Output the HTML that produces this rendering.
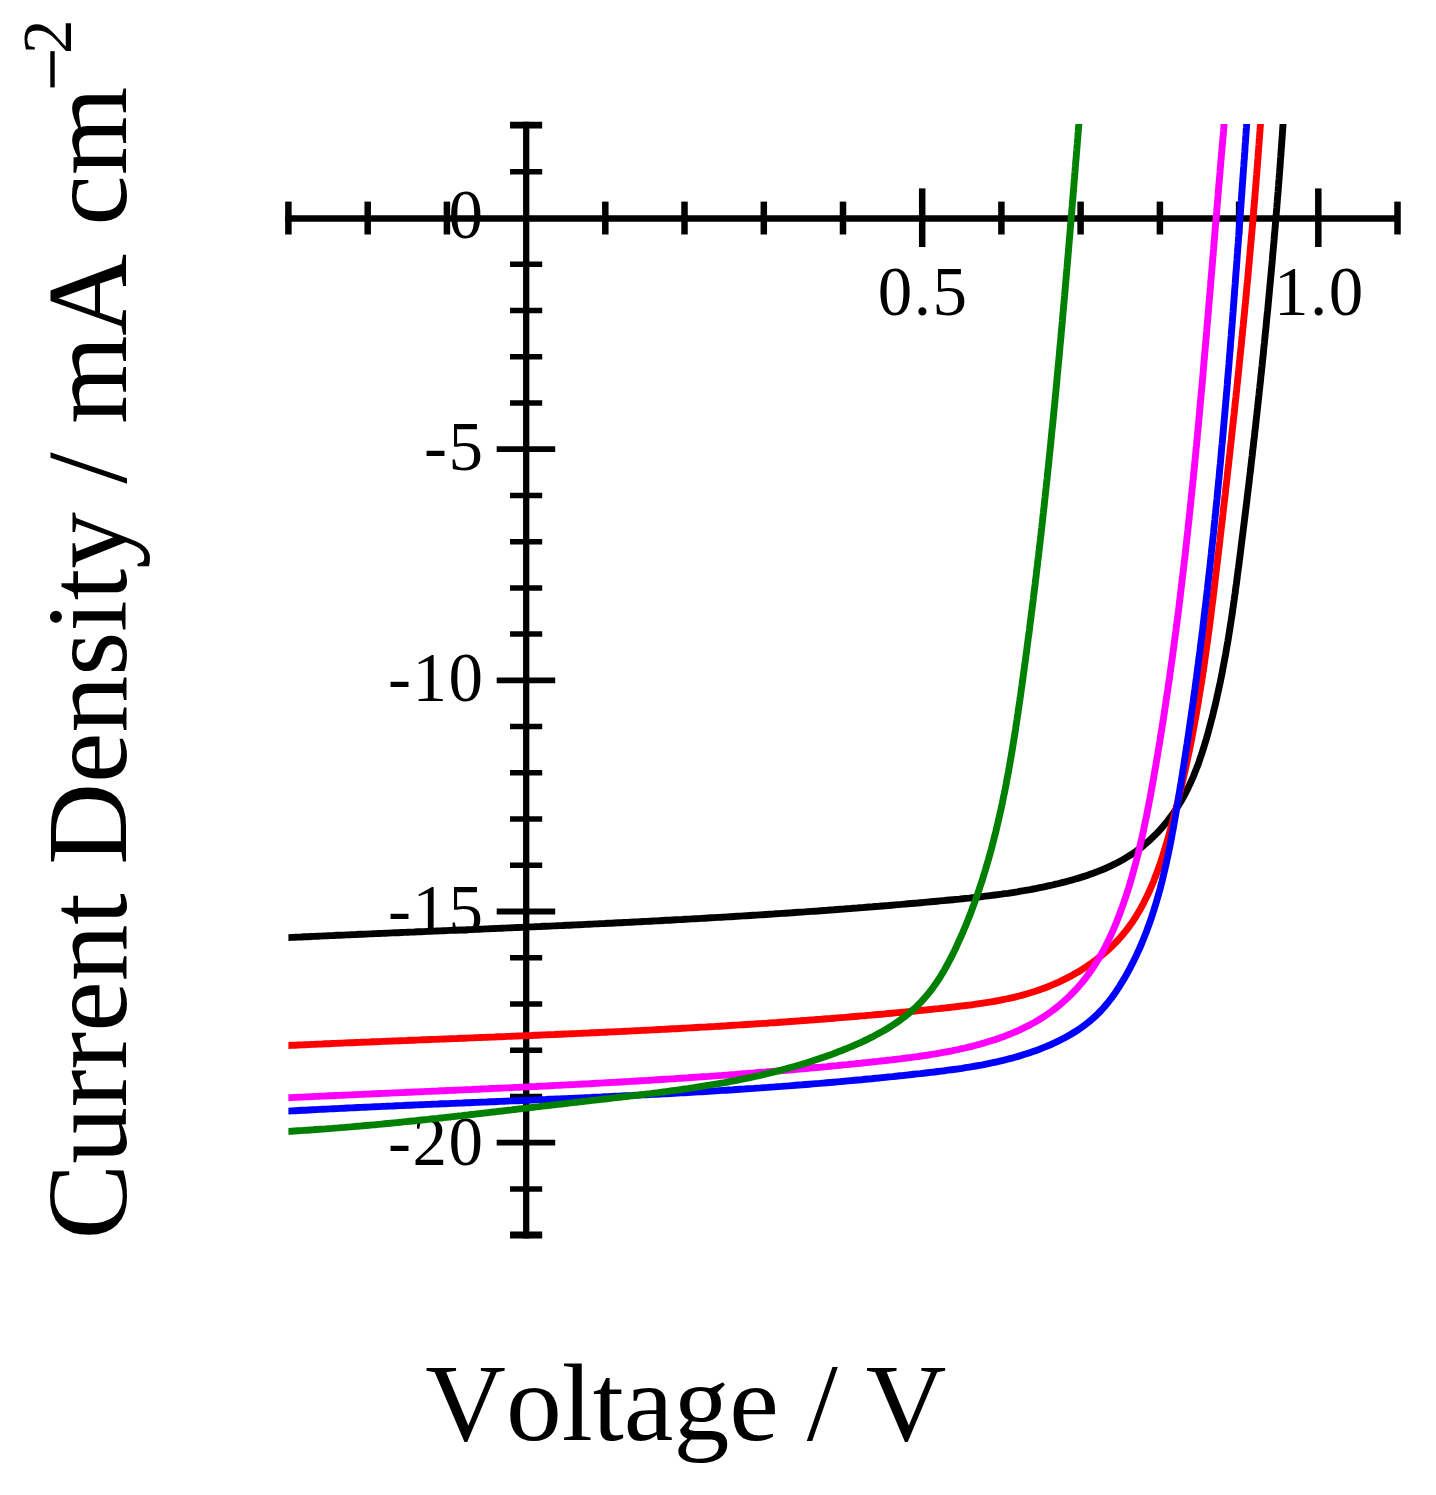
<!DOCTYPE html>
<html><head><meta charset="utf-8"><style>
html,body{margin:0;padding:0;background:#fff;}
svg{display:block;}
text{font-kerning:none;}
.tl{font-family:"Liberation Serif",serif;font-size:69px;fill:#000;letter-spacing:1.5px;}
.tt{font-family:"Liberation Serif",serif;font-size:113.4px;fill:#000;}
.sp{font-family:"Liberation Serif",serif;font-size:67px;fill:#000;}
</style></head><body>
<svg width="1436" height="1495" viewBox="0 0 1436 1495">
<rect width="1436" height="1495" fill="#fff"/>
<defs><clipPath id="pc"><rect x="288.4" y="124" width="1120" height="1120"/></clipPath></defs>
<g stroke="#000" fill="none">
<line x1="285" y1="218.5" x2="1400" y2="218.5" stroke-width="6.5"/>
<line x1="526.2" y1="121.8" x2="526.2" y2="1238.4" stroke-width="6.3"/>
<line x1="288.4" y1="201.6" x2="288.4" y2="234.5" stroke-width="6.5"/>
<line x1="367.7" y1="201.6" x2="367.7" y2="234.5" stroke-width="6.5"/>
<line x1="446.9" y1="201.6" x2="446.9" y2="234.5" stroke-width="6.5"/>
<line x1="605.3" y1="201.6" x2="605.3" y2="234.5" stroke-width="6.5"/>
<line x1="684.5" y1="201.6" x2="684.5" y2="234.5" stroke-width="6.5"/>
<line x1="763.8" y1="201.6" x2="763.8" y2="234.5" stroke-width="6.5"/>
<line x1="843.0" y1="201.6" x2="843.0" y2="234.5" stroke-width="6.5"/>
<line x1="922.2" y1="188.4" x2="922.2" y2="247" stroke-width="6.5"/>
<line x1="1001.4" y1="201.6" x2="1001.4" y2="234.5" stroke-width="6.5"/>
<line x1="1080.6" y1="201.6" x2="1080.6" y2="234.5" stroke-width="6.5"/>
<line x1="1159.9" y1="201.6" x2="1159.9" y2="234.5" stroke-width="6.5"/>
<line x1="1239.1" y1="201.6" x2="1239.1" y2="234.5" stroke-width="6.5"/>
<line x1="1318.3" y1="188.4" x2="1318.3" y2="247" stroke-width="6.5"/>
<line x1="1397.5" y1="201.6" x2="1397.5" y2="234.5" stroke-width="6.5"/>
<line x1="510" y1="125.2" x2="542.2" y2="125.2" stroke-width="6.8"/>
<line x1="510" y1="171.8" x2="542.2" y2="171.8" stroke-width="5.5"/>
<line x1="510" y1="264.2" x2="542.2" y2="264.2" stroke-width="5.5"/>
<line x1="510" y1="310.5" x2="542.2" y2="310.5" stroke-width="5.5"/>
<line x1="510" y1="356.7" x2="542.2" y2="356.7" stroke-width="5.5"/>
<line x1="510" y1="402.9" x2="542.2" y2="402.9" stroke-width="5.5"/>
<line x1="496.7" y1="449.2" x2="555.2" y2="449.2" stroke-width="5.8"/>
<line x1="510" y1="495.4" x2="542.2" y2="495.4" stroke-width="5.5"/>
<line x1="510" y1="541.7" x2="542.2" y2="541.7" stroke-width="5.5"/>
<line x1="510" y1="587.9" x2="542.2" y2="587.9" stroke-width="5.5"/>
<line x1="510" y1="634.1" x2="542.2" y2="634.1" stroke-width="5.5"/>
<line x1="496.7" y1="680.4" x2="555.2" y2="680.4" stroke-width="5.8"/>
<line x1="510" y1="726.6" x2="542.2" y2="726.6" stroke-width="5.5"/>
<line x1="510" y1="772.8" x2="542.2" y2="772.8" stroke-width="5.5"/>
<line x1="510" y1="819.1" x2="542.2" y2="819.1" stroke-width="5.5"/>
<line x1="510" y1="865.3" x2="542.2" y2="865.3" stroke-width="5.5"/>
<line x1="496.7" y1="911.5" x2="555.2" y2="911.5" stroke-width="5.8"/>
<line x1="510" y1="957.8" x2="542.2" y2="957.8" stroke-width="5.5"/>
<line x1="510" y1="1004.0" x2="542.2" y2="1004.0" stroke-width="5.5"/>
<line x1="510" y1="1050.2" x2="542.2" y2="1050.2" stroke-width="5.5"/>
<line x1="510" y1="1096.5" x2="542.2" y2="1096.5" stroke-width="5.5"/>
<line x1="496.7" y1="1142.7" x2="555.2" y2="1142.7" stroke-width="5.8"/>
<line x1="510" y1="1189.0" x2="542.2" y2="1189.0" stroke-width="5.5"/>
<line x1="510" y1="1235.0" x2="542.2" y2="1235.0" stroke-width="6.8"/>
</g>
<text x="484.5" y="237.5" text-anchor="end" class="tl">0</text>
<text x="484.5" y="470.2" text-anchor="end" class="tl">-5</text>
<text x="484.5" y="700.6" text-anchor="end" class="tl">-10</text>
<text x="484.5" y="933.0" text-anchor="end" class="tl">-15</text>
<text x="484.5" y="1164.7" text-anchor="end" class="tl">-20</text>
<text x="923.2" y="314.5" text-anchor="middle" class="tl">0.5</text>
<text x="1319.3" y="314.5" text-anchor="middle" class="tl">1.0</text>
<text x="425.3" y="1440" class="tt" style="font-size:111px" textLength="521" lengthAdjust="spacingAndGlyphs">Voltage / V</text>
<g transform="translate(126,1239.5) rotate(-90)">
<text x="0" y="0" class="tt">Current Density / mA cm</text>
<text x="1185.5" y="-55" class="sp" style="font-size:69px">2</text>
</g>
<rect x="50.3" y="51.2" width="4.4" height="36.2" fill="#000"/>
<g clip-path="url(#pc)" fill="none" stroke-width="6.9" stroke-linejoin="round">
<path d="M276.3,938.1 L288.3,937.6 L291.5,937.4 L294.7,937.3 L298.0,937.1 L301.2,937.0 L304.5,936.8 L307.7,936.7 L310.9,936.5 L314.2,936.4 L317.4,936.2 L320.6,936.1 L323.9,935.9 L327.1,935.8 L330.3,935.6 L333.6,935.5 L336.8,935.3 L340.0,935.2 L343.3,935.1 L346.5,934.9 L349.8,934.8 L353.0,934.6 L356.2,934.5 L359.5,934.3 L362.7,934.2 L365.9,934.1 L369.2,933.9 L372.4,933.8 L375.6,933.6 L378.9,933.5 L382.1,933.4 L385.3,933.2 L388.6,933.1 L391.8,932.9 L395.0,932.8 L398.2,932.7 L401.5,932.5 L404.7,932.4 L407.9,932.2 L411.2,932.1 L414.4,932.0 L417.6,931.8 L420.9,931.7 L424.1,931.6 L427.3,931.4 L430.6,931.3 L433.8,931.1 L437.0,931.0 L440.2,930.9 L443.5,930.7 L446.7,930.6 L449.9,930.4 L453.2,930.3 L456.4,930.2 L459.6,930.0 L462.9,929.9 L466.1,929.8 L469.3,929.6 L472.5,929.5 L475.8,929.3 L479.0,929.2 L482.2,929.1 L485.5,928.9 L488.7,928.8 L491.9,928.6 L495.1,928.5 L498.4,928.4 L501.6,928.2 L504.8,928.1 L508.0,927.9 L511.3,927.8 L514.5,927.6 L517.7,927.5 L521.0,927.4 L524.2,927.2 L527.4,927.1 L530.6,926.9 L533.9,926.8 L537.1,926.6 L540.3,926.5 L543.5,926.3 L546.8,926.2 L550.0,926.1 L553.2,925.9 L556.4,925.8 L559.7,925.6 L562.9,925.5 L566.1,925.3 L569.4,925.2 L572.6,925.0 L575.8,924.9 L579.0,924.7 L582.3,924.6 L585.5,924.4 L588.7,924.2 L591.9,924.1 L595.2,923.9 L598.4,923.8 L601.6,923.6 L604.8,923.5 L608.1,923.3 L611.3,923.2 L614.5,923.0 L617.7,922.8 L621.0,922.7 L624.2,922.5 L627.4,922.4 L630.6,922.2 L633.9,922.0 L637.1,921.9 L640.3,921.7 L643.5,921.5 L646.7,921.4 L650.0,921.2 L653.2,921.0 L656.4,920.9 L659.6,920.7 L662.9,920.5 L666.1,920.3 L669.3,920.2 L672.5,920.0 L675.8,919.8 L679.0,919.6 L682.2,919.5 L685.4,919.3 L688.7,919.1 L691.9,918.9 L695.1,918.7 L698.3,918.6 L701.6,918.4 L704.8,918.2 L708.0,918.0 L711.2,917.8 L714.4,917.6 L717.7,917.4 L720.9,917.3 L724.1,917.1 L727.3,916.9 L730.6,916.7 L733.8,916.5 L737.0,916.3 L740.2,916.1 L743.5,915.9 L746.7,915.7 L749.9,915.5 L753.1,915.3 L756.4,915.1 L759.6,914.9 L762.8,914.7 L766.0,914.5 L769.2,914.3 L772.5,914.1 L775.7,913.8 L778.9,913.6 L782.1,913.4 L785.4,913.2 L788.6,913.0 L791.8,912.8 L795.0,912.5 L798.3,912.3 L801.5,912.1 L804.7,911.9 L807.9,911.6 L811.2,911.4 L814.4,911.2 L817.6,911.0 L820.8,910.7 L824.1,910.5 L827.3,910.3 L830.5,910.0 L833.7,909.8 L836.9,909.5 L840.2,909.3 L843.4,909.1 L846.6,908.8 L849.8,908.6 L853.1,908.3 L856.3,908.1 L859.5,907.8 L862.7,907.6 L866.0,907.3 L869.2,907.0 L872.4,906.8 L875.6,906.5 L878.9,906.3 L882.1,906.0 L885.3,905.7 L888.5,905.5 L891.8,905.2 L895.0,904.9 L898.2,904.6 L901.4,904.4 L904.7,904.1 L907.9,903.8 L911.1,903.5 L914.3,903.2 L917.6,903.0 L920.8,902.7 L924.0,902.4 L927.2,902.1 L930.5,901.8 L933.7,901.5 L936.9,901.2 L940.2,900.9 L943.4,900.6 L946.6,900.3 L949.8,900.0 L953.1,899.7 L956.3,899.4 L959.5,899.1 L962.7,898.7 L966.0,898.4 L969.2,898.1 L972.4,897.7 L975.6,897.4 L978.8,897.0 L982.1,896.6 L985.3,896.2 L988.5,895.8 L991.7,895.4 L994.9,895.0 L998.2,894.6 L1001.4,894.2 L1004.6,893.7 L1007.8,893.3 L1011.0,892.8 L1014.2,892.3 L1017.4,891.8 L1020.6,891.2 L1023.8,890.7 L1027.0,890.1 L1030.2,889.6 L1033.4,889.0 L1036.6,888.4 L1039.8,887.7 L1042.9,887.1 L1046.1,886.4 L1049.3,885.7 L1052.5,885.0 L1055.7,884.2 L1058.8,883.5 L1062.0,882.7 L1065.2,881.9 L1068.3,881.0 L1071.5,880.2 L1074.6,879.3 L1077.7,878.4 L1080.9,877.4 L1084.0,876.4 L1087.0,875.4 L1090.1,874.3 L1093.2,873.2 L1096.2,872.1 L1099.2,870.9 L1102.2,869.7 L1105.2,868.5 L1108.1,867.2 L1111.0,865.8 L1113.9,864.4 L1116.8,863.0 L1119.6,861.5 L1122.4,860.0 L1125.1,858.4 L1127.8,856.7 L1130.5,855.0 L1133.2,853.3 L1135.7,851.5 L1138.3,849.6 L1140.8,847.7 L1143.3,845.7 L1145.7,843.7 L1148.1,841.6 L1150.4,839.5 L1152.7,837.3 L1155.0,835.1 L1157.2,832.9 L1159.4,830.6 L1161.5,828.2 L1163.6,825.8 L1165.6,823.4 L1167.6,820.9 L1169.5,818.4 L1171.4,815.8 L1173.3,813.2 L1175.1,810.6 L1176.9,807.9 L1178.6,805.2 L1180.3,802.5 L1181.9,799.7 L1183.5,796.9 L1185.0,794.1 L1186.5,791.2 L1187.9,788.4 L1189.3,785.4 L1190.7,782.5 L1192.0,779.5 L1193.3,776.6 L1194.5,773.5 L1195.7,770.5 L1196.9,767.5 L1198.1,764.4 L1199.2,761.3 L1200.2,758.2 L1201.3,755.1 L1202.3,752.0 L1203.3,748.9 L1204.3,745.8 L1205.2,742.6 L1206.2,739.5 L1207.1,736.3 L1208.0,733.1 L1208.8,730.0 L1209.7,726.8 L1210.5,723.6 L1211.3,720.5 L1212.2,717.3 L1213.0,714.1 L1213.7,711.0 L1214.5,707.8 L1215.3,704.6 L1216.0,701.5 L1216.7,698.3 L1217.4,695.1 L1218.1,691.9 L1218.8,688.8 L1219.5,685.6 L1220.2,682.4 L1220.8,679.3 L1221.5,676.1 L1222.1,672.9 L1222.7,669.7 L1223.3,666.5 L1223.9,663.4 L1224.5,660.2 L1225.1,657.0 L1225.7,653.8 L1226.2,650.6 L1226.8,647.5 L1227.3,644.3 L1227.9,641.1 L1228.4,637.9 L1228.9,634.7 L1229.4,631.5 L1229.9,628.4 L1230.4,625.2 L1230.9,622.0 L1231.4,618.8 L1231.9,615.6 L1232.4,612.4 L1232.8,609.2 L1233.3,606.1 L1233.7,602.9 L1234.2,599.7 L1234.6,596.5 L1235.1,593.3 L1235.5,590.1 L1235.9,586.9 L1236.4,583.7 L1236.8,580.5 L1237.2,577.3 L1237.6,574.1 L1238.0,570.9 L1238.5,567.7 L1238.9,564.5 L1239.3,561.3 L1239.7,558.2 L1240.1,555.0 L1240.5,551.8 L1240.9,548.6 L1241.3,545.4 L1241.7,542.2 L1242.1,539.0 L1242.5,535.8 L1242.9,532.6 L1243.3,529.4 L1243.7,526.2 L1244.1,523.0 L1244.5,519.8 L1244.9,516.5 L1245.3,513.3 L1245.7,510.1 L1246.1,506.9 L1246.5,503.7 L1246.9,500.5 L1247.2,497.3 L1247.6,494.1 L1248.0,490.9 L1248.4,487.7 L1248.8,484.5 L1249.2,481.3 L1249.5,478.1 L1249.9,474.9 L1250.3,471.7 L1250.7,468.5 L1251.0,465.2 L1251.4,462.0 L1251.8,458.8 L1252.2,455.6 L1252.5,452.4 L1252.9,449.2 L1253.3,446.0 L1253.6,442.8 L1254.0,439.6 L1254.4,436.4 L1254.7,433.1 L1255.1,429.9 L1255.5,426.7 L1255.8,423.5 L1256.2,420.3 L1256.5,417.1 L1256.9,413.9 L1257.2,410.6 L1257.6,407.4 L1257.9,404.2 L1258.3,401.0 L1258.6,397.8 L1259.0,394.6 L1259.3,391.4 L1259.7,388.1 L1260.0,384.9 L1260.4,381.7 L1260.7,378.5 L1261.0,375.3 L1261.4,372.0 L1261.7,368.8 L1262.1,365.6 L1262.4,362.4 L1262.7,359.2 L1263.1,356.0 L1263.4,352.7 L1263.7,349.5 L1264.0,346.3 L1264.4,343.1 L1264.7,339.9 L1265.0,336.6 L1265.3,333.4 L1265.7,330.2 L1266.0,327.0 L1266.3,323.8 L1266.6,320.5 L1266.9,317.3 L1267.2,314.1 L1267.6,310.9 L1267.9,307.7 L1268.2,304.4 L1268.5,301.2 L1268.8,298.0 L1269.1,294.8 L1269.4,291.6 L1269.7,288.3 L1270.0,285.1 L1270.3,281.9 L1270.6,278.7 L1270.9,275.4 L1271.2,272.2 L1271.5,269.0 L1271.8,265.8 L1272.1,262.6 L1272.4,259.3 L1272.6,256.1 L1272.9,252.9 L1273.2,249.7 L1273.5,246.4 L1273.8,243.2 L1274.1,240.0 L1274.3,236.8 L1274.6,233.6 L1274.9,230.3 L1275.2,227.1 L1275.4,223.9 L1275.7,220.7 L1276.0,217.4 L1276.2,214.2 L1276.5,211.0 L1276.8,207.8 L1277.0,204.6 L1277.3,201.3 L1277.5,198.1 L1277.8,194.9 L1278.1,191.7 L1278.3,188.4 L1278.6,185.2 L1278.8,182.0 L1279.1,178.8 L1279.3,175.6 L1279.6,172.3 L1279.8,169.1 L1280.1,165.9 L1280.3,162.7 L1280.5,159.5 L1280.8,156.2 L1281.0,153.0 L1281.2,149.8 L1281.5,146.6 L1281.7,143.3 L1281.9,140.1 L1282.2,136.9 L1282.4,133.7 L1282.6,130.5 L1282.8,127.2 L1283.1,124.0 L1283.9,112.0" stroke="#000000"/>
<path d="M276.2,1046.0 L288.2,1045.5 L291.6,1045.3 L295.0,1045.2 L298.4,1045.0 L301.8,1044.9 L305.2,1044.7 L308.6,1044.6 L312.0,1044.4 L315.4,1044.3 L318.8,1044.1 L322.1,1044.0 L325.5,1043.8 L328.9,1043.7 L332.3,1043.5 L335.7,1043.4 L339.1,1043.2 L342.5,1043.1 L345.8,1042.9 L349.2,1042.8 L352.6,1042.7 L356.0,1042.5 L359.4,1042.4 L362.8,1042.2 L366.1,1042.1 L369.5,1042.0 L372.9,1041.8 L376.3,1041.7 L379.7,1041.6 L383.0,1041.4 L386.4,1041.3 L389.8,1041.1 L393.2,1041.0 L396.6,1040.9 L399.9,1040.7 L403.3,1040.6 L406.7,1040.5 L410.1,1040.3 L413.4,1040.2 L416.8,1040.1 L420.2,1039.9 L423.6,1039.8 L426.9,1039.7 L430.3,1039.5 L433.7,1039.4 L437.1,1039.3 L440.4,1039.1 L443.8,1039.0 L447.2,1038.9 L450.6,1038.7 L453.9,1038.6 L457.3,1038.5 L460.7,1038.3 L464.0,1038.2 L467.4,1038.1 L470.8,1037.9 L474.2,1037.8 L477.5,1037.6 L480.9,1037.5 L484.3,1037.4 L487.6,1037.2 L491.0,1037.1 L494.4,1037.0 L497.7,1036.8 L501.1,1036.7 L504.5,1036.6 L507.8,1036.4 L511.2,1036.3 L514.6,1036.1 L517.9,1036.0 L521.3,1035.9 L524.7,1035.7 L528.0,1035.6 L531.4,1035.5 L534.8,1035.3 L538.1,1035.2 L541.5,1035.0 L544.9,1034.9 L548.2,1034.7 L551.6,1034.6 L555.0,1034.5 L558.3,1034.3 L561.7,1034.2 L565.1,1034.0 L568.4,1033.9 L571.8,1033.7 L575.2,1033.6 L578.5,1033.4 L581.9,1033.3 L585.2,1033.1 L588.6,1033.0 L592.0,1032.8 L595.3,1032.7 L598.7,1032.5 L602.1,1032.4 L605.4,1032.2 L608.8,1032.0 L612.2,1031.9 L615.5,1031.7 L618.9,1031.6 L622.2,1031.4 L625.6,1031.2 L629.0,1031.1 L632.3,1030.9 L635.7,1030.7 L639.1,1030.6 L642.4,1030.4 L645.8,1030.2 L649.1,1030.1 L652.5,1029.9 L655.9,1029.7 L659.2,1029.5 L662.6,1029.4 L666.0,1029.2 L669.3,1029.0 L672.7,1028.8 L676.0,1028.7 L679.4,1028.5 L682.8,1028.3 L686.1,1028.1 L689.5,1027.9 L692.9,1027.7 L696.2,1027.5 L699.6,1027.3 L702.9,1027.1 L706.3,1027.0 L709.7,1026.8 L713.0,1026.6 L716.4,1026.4 L719.8,1026.2 L723.1,1026.0 L726.5,1025.8 L729.9,1025.5 L733.2,1025.3 L736.6,1025.1 L740.0,1024.9 L743.3,1024.7 L746.7,1024.5 L750.0,1024.3 L753.4,1024.1 L756.8,1023.8 L760.1,1023.6 L763.5,1023.4 L766.9,1023.2 L770.2,1022.9 L773.6,1022.7 L777.0,1022.5 L780.3,1022.2 L783.7,1022.0 L787.1,1021.8 L790.4,1021.5 L793.8,1021.3 L797.2,1021.0 L800.5,1020.8 L803.9,1020.5 L807.3,1020.3 L810.7,1020.0 L814.0,1019.8 L817.4,1019.5 L820.8,1019.3 L824.1,1019.0 L827.5,1018.7 L830.9,1018.5 L834.2,1018.2 L837.6,1017.9 L841.0,1017.6 L844.4,1017.4 L847.7,1017.1 L851.1,1016.8 L854.5,1016.5 L857.8,1016.2 L861.2,1015.9 L864.6,1015.7 L868.0,1015.4 L871.3,1015.1 L874.7,1014.8 L878.1,1014.5 L881.5,1014.2 L884.8,1013.9 L888.2,1013.5 L891.6,1013.2 L895.0,1012.9 L898.3,1012.6 L901.7,1012.3 L905.1,1012.0 L908.5,1011.6 L911.9,1011.3 L915.2,1011.0 L918.6,1010.6 L922.0,1010.3 L925.4,1010.0 L928.8,1009.6 L932.1,1009.3 L935.5,1008.9 L938.9,1008.6 L942.3,1008.2 L945.7,1007.9 L949.1,1007.5 L952.4,1007.1 L955.8,1006.7 L959.2,1006.3 L962.6,1005.9 L965.9,1005.5 L969.3,1005.1 L972.7,1004.7 L976.0,1004.2 L979.4,1003.7 L982.8,1003.2 L986.1,1002.7 L989.4,1002.2 L992.8,1001.6 L996.1,1001.0 L999.4,1000.4 L1002.7,999.7 L1006.0,999.0 L1009.3,998.3 L1012.6,997.6 L1015.9,996.8 L1019.1,996.0 L1022.4,995.1 L1025.6,994.2 L1028.8,993.3 L1032.1,992.3 L1035.3,991.3 L1038.4,990.2 L1041.6,989.1 L1044.8,987.9 L1047.9,986.7 L1051.0,985.4 L1054.1,984.1 L1057.2,982.8 L1060.3,981.4 L1063.3,979.9 L1066.3,978.4 L1069.3,976.9 L1072.3,975.3 L1075.2,973.6 L1078.1,971.9 L1081.0,970.2 L1083.8,968.4 L1086.6,966.6 L1089.4,964.7 L1092.1,962.8 L1094.8,960.8 L1097.5,958.8 L1100.1,956.7 L1102.6,954.6 L1105.2,952.5 L1107.7,950.3 L1110.1,948.0 L1112.5,945.7 L1114.8,943.4 L1117.1,941.0 L1119.4,938.5 L1121.6,936.1 L1123.7,933.5 L1125.8,930.9 L1127.8,928.3 L1129.8,925.6 L1131.7,922.9 L1133.6,920.2 L1135.4,917.4 L1137.1,914.5 L1138.9,911.7 L1140.5,908.8 L1142.1,905.8 L1143.7,902.8 L1145.2,899.8 L1146.7,896.8 L1148.2,893.7 L1149.6,890.7 L1150.9,887.5 L1152.3,884.4 L1153.6,881.3 L1154.8,878.1 L1156.1,874.9 L1157.2,871.7 L1158.4,868.5 L1159.6,865.3 L1160.7,862.1 L1161.7,858.8 L1162.8,855.6 L1163.8,852.3 L1164.8,849.1 L1165.8,845.8 L1166.8,842.5 L1167.8,839.2 L1168.7,836.0 L1169.6,832.7 L1170.5,829.4 L1171.4,826.1 L1172.3,822.8 L1173.2,819.6 L1174.0,816.3 L1174.9,813.0 L1175.7,809.7 L1176.5,806.4 L1177.4,803.2 L1178.2,799.9 L1179.0,796.6 L1179.8,793.3 L1180.6,790.1 L1181.3,786.8 L1182.1,783.5 L1182.9,780.2 L1183.6,777.0 L1184.4,773.7 L1185.1,770.4 L1185.8,767.1 L1186.5,763.9 L1187.2,760.6 L1187.9,757.3 L1188.6,754.0 L1189.3,750.7 L1190.0,747.4 L1190.6,744.1 L1191.3,740.9 L1191.9,737.6 L1192.5,734.3 L1193.2,731.0 L1193.8,727.7 L1194.4,724.3 L1195.0,721.0 L1195.6,717.7 L1196.2,714.4 L1196.8,711.1 L1197.3,707.8 L1197.9,704.5 L1198.5,701.2 L1199.0,697.8 L1199.5,694.5 L1200.1,691.2 L1200.6,687.9 L1201.1,684.6 L1201.7,681.2 L1202.2,677.9 L1202.7,674.6 L1203.2,671.2 L1203.7,667.9 L1204.2,664.6 L1204.7,661.2 L1205.1,657.9 L1205.6,654.6 L1206.1,651.2 L1206.5,647.9 L1207.0,644.5 L1207.5,641.2 L1207.9,637.9 L1208.4,634.5 L1208.8,631.2 L1209.3,627.8 L1209.7,624.5 L1210.1,621.1 L1210.6,617.8 L1211.0,614.4 L1211.4,611.1 L1211.8,607.7 L1212.2,604.4 L1212.7,601.0 L1213.1,597.7 L1213.5,594.3 L1213.9,591.0 L1214.3,587.6 L1214.7,584.3 L1215.1,580.9 L1215.5,577.5 L1215.9,574.2 L1216.3,570.8 L1216.7,567.5 L1217.1,564.1 L1217.5,560.8 L1217.9,557.4 L1218.3,554.1 L1218.7,550.7 L1219.1,547.3 L1219.5,544.0 L1219.9,540.6 L1220.2,537.3 L1220.6,533.9 L1221.0,530.6 L1221.4,527.2 L1221.8,523.9 L1222.2,520.5 L1222.6,517.1 L1223.0,513.8 L1223.3,510.4 L1223.7,507.1 L1224.1,503.7 L1224.5,500.4 L1224.9,497.0 L1225.3,493.6 L1225.6,490.3 L1226.0,486.9 L1226.4,483.6 L1226.8,480.2 L1227.2,476.9 L1227.5,473.5 L1227.9,470.2 L1228.3,466.8 L1228.7,463.4 L1229.0,460.1 L1229.4,456.7 L1229.8,453.4 L1230.1,450.0 L1230.5,446.7 L1230.9,443.3 L1231.3,439.9 L1231.6,436.6 L1232.0,433.2 L1232.3,429.9 L1232.7,426.5 L1233.1,423.2 L1233.4,419.8 L1233.8,416.5 L1234.2,413.1 L1234.5,409.7 L1234.9,406.4 L1235.2,403.0 L1235.6,399.7 L1236.0,396.3 L1236.3,393.0 L1236.7,389.6 L1237.0,386.2 L1237.4,382.9 L1237.7,379.5 L1238.1,376.2 L1238.4,372.8 L1238.8,369.4 L1239.1,366.1 L1239.4,362.7 L1239.8,359.4 L1240.1,356.0 L1240.5,352.7 L1240.8,349.3 L1241.2,345.9 L1241.5,342.6 L1241.8,339.2 L1242.2,335.9 L1242.5,332.5 L1242.8,329.1 L1243.2,325.8 L1243.5,322.4 L1243.8,319.1 L1244.2,315.7 L1244.5,312.3 L1244.8,309.0 L1245.1,305.6 L1245.5,302.3 L1245.8,298.9 L1246.1,295.5 L1246.4,292.2 L1246.7,288.8 L1247.0,285.5 L1247.4,282.1 L1247.7,278.7 L1248.0,275.4 L1248.3,272.0 L1248.6,268.7 L1248.9,265.3 L1249.2,261.9 L1249.5,258.6 L1249.8,255.2 L1250.1,251.9 L1250.4,248.5 L1250.7,245.1 L1251.0,241.8 L1251.3,238.4 L1251.6,235.0 L1251.9,231.7 L1252.2,228.3 L1252.5,225.0 L1252.8,221.6 L1253.1,218.2 L1253.4,214.9 L1253.6,211.5 L1253.9,208.1 L1254.2,204.8 L1254.5,201.4 L1254.8,198.1 L1255.0,194.7 L1255.3,191.3 L1255.6,188.0 L1255.9,184.6 L1256.1,181.2 L1256.4,177.9 L1256.7,174.5 L1256.9,171.1 L1257.2,167.8 L1257.5,164.4 L1257.7,161.0 L1258.0,157.7 L1258.2,154.3 L1258.5,150.9 L1258.7,147.6 L1259.0,144.2 L1259.2,140.8 L1259.5,137.5 L1259.7,134.1 L1260.0,130.7 L1260.2,127.4 L1260.5,124.0 L1261.3,112.0" stroke="#ff0000"/>
<path d="M276.2,1111.8 L288.2,1111.1 L291.7,1110.9 L295.2,1110.7 L298.7,1110.5 L302.2,1110.3 L305.7,1110.2 L309.2,1110.0 L312.7,1109.8 L316.1,1109.6 L319.6,1109.4 L323.1,1109.2 L326.6,1109.1 L330.1,1108.9 L333.6,1108.7 L337.1,1108.6 L340.6,1108.4 L344.1,1108.2 L347.5,1108.0 L351.0,1107.9 L354.5,1107.7 L358.0,1107.5 L361.5,1107.4 L365.0,1107.2 L368.4,1107.1 L371.9,1106.9 L375.4,1106.7 L378.9,1106.6 L382.4,1106.4 L385.9,1106.3 L389.3,1106.1 L392.8,1106.0 L396.3,1105.8 L399.8,1105.6 L403.3,1105.5 L406.8,1105.3 L410.2,1105.2 L413.7,1105.0 L417.2,1104.9 L420.7,1104.7 L424.1,1104.6 L427.6,1104.4 L431.1,1104.3 L434.6,1104.1 L438.1,1104.0 L441.5,1103.8 L445.0,1103.7 L448.5,1103.6 L452.0,1103.4 L455.4,1103.3 L458.9,1103.1 L462.4,1103.0 L465.9,1102.8 L469.3,1102.7 L472.8,1102.5 L476.3,1102.4 L479.8,1102.2 L483.2,1102.1 L486.7,1102.0 L490.2,1101.8 L493.7,1101.7 L497.1,1101.5 L500.6,1101.4 L504.1,1101.2 L507.5,1101.1 L511.0,1100.9 L514.5,1100.8 L518.0,1100.7 L521.4,1100.5 L524.9,1100.4 L528.4,1100.2 L531.9,1100.1 L535.3,1099.9 L538.8,1099.8 L542.3,1099.6 L545.7,1099.5 L549.2,1099.3 L552.7,1099.2 L556.1,1099.0 L559.6,1098.9 L563.1,1098.7 L566.6,1098.6 L570.0,1098.4 L573.5,1098.3 L577.0,1098.1 L580.4,1097.9 L583.9,1097.8 L587.4,1097.6 L590.8,1097.5 L594.3,1097.3 L597.8,1097.1 L601.2,1097.0 L604.7,1096.8 L608.2,1096.7 L611.6,1096.5 L615.1,1096.3 L618.6,1096.2 L622.0,1096.0 L625.5,1095.8 L629.0,1095.6 L632.5,1095.5 L635.9,1095.3 L639.4,1095.1 L642.9,1094.9 L646.3,1094.8 L649.8,1094.6 L653.3,1094.4 L656.7,1094.2 L660.2,1094.0 L663.7,1093.9 L667.1,1093.7 L670.6,1093.5 L674.1,1093.3 L677.5,1093.1 L681.0,1092.9 L684.5,1092.7 L687.9,1092.5 L691.4,1092.3 L694.9,1092.1 L698.3,1091.9 L701.8,1091.7 L705.3,1091.5 L708.7,1091.3 L712.2,1091.1 L715.7,1090.9 L719.1,1090.6 L722.6,1090.4 L726.1,1090.2 L729.5,1090.0 L733.0,1089.8 L736.5,1089.5 L739.9,1089.3 L743.4,1089.1 L746.9,1088.8 L750.3,1088.6 L753.8,1088.4 L757.3,1088.1 L760.7,1087.9 L764.2,1087.6 L767.7,1087.4 L771.2,1087.1 L774.6,1086.9 L778.1,1086.6 L781.6,1086.4 L785.0,1086.1 L788.5,1085.9 L792.0,1085.6 L795.4,1085.3 L798.9,1085.0 L802.4,1084.8 L805.8,1084.5 L809.3,1084.2 L812.8,1083.9 L816.3,1083.6 L819.7,1083.4 L823.2,1083.1 L826.7,1082.8 L830.1,1082.5 L833.6,1082.2 L837.1,1081.9 L840.6,1081.6 L844.0,1081.3 L847.5,1080.9 L851.0,1080.6 L854.4,1080.3 L857.9,1080.0 L861.4,1079.7 L864.9,1079.3 L868.3,1079.0 L871.8,1078.7 L875.3,1078.3 L878.8,1078.0 L882.2,1077.6 L885.7,1077.3 L889.2,1076.9 L892.7,1076.6 L896.1,1076.2 L899.6,1075.8 L903.1,1075.5 L906.6,1075.1 L910.0,1074.7 L913.5,1074.3 L917.0,1073.9 L920.5,1073.6 L923.9,1073.2 L927.4,1072.8 L930.9,1072.4 L934.4,1072.0 L937.8,1071.5 L941.3,1071.1 L944.8,1070.7 L948.3,1070.2 L951.7,1069.7 L955.2,1069.3 L958.6,1068.8 L962.1,1068.3 L965.5,1067.7 L969.0,1067.2 L972.4,1066.6 L975.9,1066.0 L979.3,1065.4 L982.7,1064.8 L986.1,1064.1 L989.5,1063.4 L992.9,1062.7 L996.3,1062.0 L999.7,1061.2 L1003.1,1060.4 L1006.5,1059.5 L1009.8,1058.7 L1013.2,1057.8 L1016.5,1056.8 L1019.8,1055.9 L1023.1,1054.8 L1026.4,1053.8 L1029.7,1052.7 L1033.0,1051.6 L1036.3,1050.4 L1039.5,1049.2 L1042.8,1047.9 L1046.0,1046.6 L1049.2,1045.3 L1052.4,1043.8 L1055.5,1042.4 L1058.7,1040.9 L1061.8,1039.3 L1064.8,1037.7 L1067.9,1036.0 L1070.9,1034.3 L1073.8,1032.5 L1076.8,1030.7 L1079.6,1028.8 L1082.4,1026.8 L1085.2,1024.7 L1087.9,1022.6 L1090.6,1020.5 L1093.2,1018.2 L1095.7,1015.9 L1098.2,1013.5 L1100.6,1011.0 L1102.9,1008.5 L1105.2,1005.9 L1107.4,1003.3 L1109.5,1000.5 L1111.6,997.8 L1113.7,995.0 L1115.7,992.1 L1117.6,989.2 L1119.5,986.3 L1121.3,983.3 L1123.1,980.4 L1124.9,977.4 L1126.6,974.3 L1128.3,971.3 L1129.9,968.3 L1131.5,965.2 L1133.1,962.1 L1134.6,959.0 L1136.1,955.9 L1137.5,952.8 L1139.0,949.7 L1140.4,946.5 L1141.7,943.4 L1143.0,940.2 L1144.3,937.0 L1145.6,933.8 L1146.8,930.6 L1148.0,927.3 L1149.2,924.1 L1150.3,920.9 L1151.5,917.6 L1152.5,914.3 L1153.6,911.0 L1154.6,907.7 L1155.7,904.4 L1156.6,901.1 L1157.6,897.8 L1158.5,894.5 L1159.5,891.1 L1160.4,887.8 L1161.2,884.4 L1162.1,881.1 L1162.9,877.7 L1163.7,874.3 L1164.5,870.9 L1165.3,867.5 L1166.1,864.1 L1166.8,860.7 L1167.6,857.3 L1168.3,853.9 L1169.0,850.5 L1169.7,847.0 L1170.4,843.6 L1171.0,840.2 L1171.7,836.7 L1172.3,833.3 L1173.0,829.9 L1173.6,826.4 L1174.2,823.0 L1174.8,819.5 L1175.4,816.1 L1176.0,812.6 L1176.6,809.2 L1177.2,805.7 L1177.8,802.3 L1178.3,798.8 L1178.9,795.4 L1179.5,791.9 L1180.0,788.4 L1180.6,785.0 L1181.2,781.5 L1181.7,778.1 L1182.3,774.6 L1182.8,771.2 L1183.4,767.7 L1183.9,764.3 L1184.4,760.8 L1185.0,757.4 L1185.5,753.9 L1186.0,750.5 L1186.5,747.0 L1187.1,743.6 L1187.6,740.1 L1188.1,736.7 L1188.6,733.2 L1189.1,729.8 L1189.6,726.3 L1190.1,722.9 L1190.6,719.4 L1191.1,716.0 L1191.6,712.5 L1192.1,709.1 L1192.6,705.6 L1193.1,702.2 L1193.5,698.7 L1194.0,695.3 L1194.5,691.8 L1195.0,688.4 L1195.4,684.9 L1195.9,681.5 L1196.4,678.0 L1196.8,674.6 L1197.3,671.1 L1197.7,667.7 L1198.2,664.2 L1198.6,660.8 L1199.1,657.3 L1199.5,653.9 L1200.0,650.4 L1200.4,647.0 L1200.8,643.5 L1201.3,640.1 L1201.7,636.6 L1202.1,633.2 L1202.6,629.7 L1203.0,626.3 L1203.4,622.8 L1203.8,619.4 L1204.2,615.9 L1204.6,612.5 L1205.0,609.0 L1205.5,605.6 L1205.9,602.1 L1206.3,598.7 L1206.7,595.2 L1207.1,591.8 L1207.5,588.3 L1207.8,584.9 L1208.2,581.4 L1208.6,578.0 L1209.0,574.5 L1209.4,571.1 L1209.8,567.6 L1210.2,564.2 L1210.5,560.7 L1210.9,557.3 L1211.3,553.8 L1211.6,550.4 L1212.0,546.9 L1212.4,543.5 L1212.7,540.0 L1213.1,536.6 L1213.5,533.1 L1213.8,529.7 L1214.2,526.2 L1214.5,522.8 L1214.9,519.3 L1215.2,515.9 L1215.6,512.4 L1215.9,509.0 L1216.3,505.5 L1216.6,502.1 L1217.0,498.6 L1217.3,495.1 L1217.6,491.7 L1218.0,488.2 L1218.3,484.8 L1218.6,481.3 L1219.0,477.9 L1219.3,474.4 L1219.6,471.0 L1219.9,467.5 L1220.3,464.1 L1220.6,460.6 L1220.9,457.1 L1221.2,453.7 L1221.5,450.2 L1221.8,446.8 L1222.2,443.3 L1222.5,439.9 L1222.8,436.4 L1223.1,433.0 L1223.4,429.5 L1223.7,426.0 L1224.0,422.6 L1224.3,419.1 L1224.6,415.7 L1224.9,412.2 L1225.2,408.7 L1225.5,405.3 L1225.8,401.8 L1226.1,398.4 L1226.4,394.9 L1226.7,391.5 L1227.0,388.0 L1227.3,384.5 L1227.5,381.1 L1227.8,377.6 L1228.1,374.1 L1228.4,370.7 L1228.7,367.2 L1229.0,363.8 L1229.2,360.3 L1229.5,356.8 L1229.8,353.4 L1230.1,349.9 L1230.4,346.4 L1230.6,343.0 L1230.9,339.5 L1231.2,336.0 L1231.4,332.6 L1231.7,329.1 L1232.0,325.6 L1232.3,322.2 L1232.5,318.7 L1232.8,315.2 L1233.1,311.8 L1233.3,308.3 L1233.6,304.8 L1233.9,301.4 L1234.1,297.9 L1234.4,294.4 L1234.6,290.9 L1234.9,287.5 L1235.2,284.0 L1235.4,280.5 L1235.7,277.1 L1235.9,273.6 L1236.2,270.1 L1236.5,266.6 L1236.7,263.2 L1237.0,259.7 L1237.2,256.2 L1237.5,252.7 L1237.7,249.3 L1238.0,245.8 L1238.3,242.3 L1238.5,238.8 L1238.8,235.3 L1239.0,231.9 L1239.3,228.4 L1239.5,224.9 L1239.8,221.4 L1240.0,217.9 L1240.3,214.5 L1240.5,211.0 L1240.8,207.5 L1241.0,204.0 L1241.3,200.5 L1241.5,197.0 L1241.8,193.6 L1242.0,190.1 L1242.3,186.6 L1242.5,183.1 L1242.8,179.6 L1243.0,176.1 L1243.3,172.6 L1243.5,169.1 L1243.8,165.7 L1244.0,162.2 L1244.3,158.7 L1244.5,155.2 L1244.8,151.7 L1245.0,148.2 L1245.2,144.7 L1245.5,141.2 L1245.7,137.7 L1246.0,134.2 L1246.2,130.7 L1246.5,127.2 L1246.7,123.7 L1247.6,111.8" stroke="#0000ff"/>
<path d="M276.3,1098.3 L288.3,1097.7 L291.7,1097.6 L295.1,1097.4 L298.5,1097.2 L301.9,1097.1 L305.3,1096.9 L308.7,1096.8 L312.1,1096.6 L315.5,1096.4 L318.9,1096.3 L322.3,1096.1 L325.7,1096.0 L329.1,1095.8 L332.5,1095.7 L335.9,1095.5 L339.3,1095.4 L342.7,1095.2 L346.1,1095.1 L349.5,1094.9 L352.9,1094.8 L356.3,1094.6 L359.7,1094.4 L363.1,1094.3 L366.5,1094.1 L369.8,1094.0 L373.2,1093.8 L376.6,1093.7 L380.0,1093.5 L383.4,1093.4 L386.8,1093.2 L390.2,1093.1 L393.6,1092.9 L397.0,1092.8 L400.4,1092.6 L403.8,1092.5 L407.2,1092.3 L410.6,1092.2 L414.0,1092.0 L417.4,1091.9 L420.7,1091.7 L424.1,1091.6 L427.5,1091.4 L430.9,1091.3 L434.3,1091.1 L437.7,1091.0 L441.1,1090.8 L444.5,1090.7 L447.9,1090.5 L451.3,1090.4 L454.6,1090.2 L458.0,1090.1 L461.4,1089.9 L464.8,1089.8 L468.2,1089.6 L471.6,1089.5 L475.0,1089.3 L478.4,1089.2 L481.8,1089.0 L485.1,1088.9 L488.5,1088.7 L491.9,1088.5 L495.3,1088.4 L498.7,1088.2 L502.1,1088.1 L505.5,1087.9 L508.8,1087.8 L512.2,1087.6 L515.6,1087.4 L519.0,1087.3 L522.4,1087.1 L525.8,1086.9 L529.2,1086.8 L532.5,1086.6 L535.9,1086.5 L539.3,1086.3 L542.7,1086.1 L546.1,1086.0 L549.5,1085.8 L552.9,1085.6 L556.2,1085.4 L559.6,1085.3 L563.0,1085.1 L566.4,1084.9 L569.8,1084.7 L573.2,1084.6 L576.5,1084.4 L579.9,1084.2 L583.3,1084.0 L586.7,1083.9 L590.1,1083.7 L593.5,1083.5 L596.8,1083.3 L600.2,1083.1 L603.6,1082.9 L607.0,1082.7 L610.4,1082.5 L613.8,1082.4 L617.1,1082.2 L620.5,1082.0 L623.9,1081.8 L627.3,1081.6 L630.7,1081.4 L634.1,1081.2 L637.4,1081.0 L640.8,1080.8 L644.2,1080.6 L647.6,1080.4 L651.0,1080.2 L654.4,1079.9 L657.7,1079.7 L661.1,1079.5 L664.5,1079.3 L667.9,1079.1 L671.3,1078.9 L674.6,1078.7 L678.0,1078.4 L681.4,1078.2 L684.8,1078.0 L688.2,1077.8 L691.6,1077.5 L694.9,1077.3 L698.3,1077.1 L701.7,1076.8 L705.1,1076.6 L708.5,1076.4 L711.8,1076.1 L715.2,1075.9 L718.6,1075.6 L722.0,1075.4 L725.4,1075.1 L728.8,1074.9 L732.1,1074.6 L735.5,1074.4 L738.9,1074.1 L742.3,1073.8 L745.7,1073.6 L749.0,1073.3 L752.4,1073.1 L755.8,1072.8 L759.2,1072.5 L762.6,1072.2 L766.0,1072.0 L769.3,1071.7 L772.7,1071.4 L776.1,1071.1 L779.5,1070.8 L782.9,1070.5 L786.3,1070.3 L789.6,1070.0 L793.0,1069.7 L796.4,1069.4 L799.8,1069.1 L803.2,1068.8 L806.5,1068.5 L809.9,1068.1 L813.3,1067.8 L816.7,1067.5 L820.1,1067.2 L823.5,1066.9 L826.8,1066.6 L830.2,1066.2 L833.6,1065.9 L837.0,1065.6 L840.4,1065.2 L843.8,1064.9 L847.2,1064.6 L850.5,1064.2 L853.9,1063.9 L857.3,1063.5 L860.7,1063.2 L864.1,1062.8 L867.5,1062.5 L870.8,1062.1 L874.2,1061.7 L877.6,1061.4 L881.0,1061.0 L884.4,1060.6 L887.8,1060.2 L891.2,1059.9 L894.5,1059.5 L897.9,1059.1 L901.3,1058.7 L904.7,1058.2 L908.1,1057.8 L911.4,1057.4 L914.8,1056.9 L918.2,1056.5 L921.6,1056.0 L924.9,1055.5 L928.3,1055.0 L931.7,1054.4 L935.0,1053.9 L938.4,1053.3 L941.7,1052.7 L945.1,1052.1 L948.4,1051.5 L951.7,1050.9 L955.1,1050.2 L958.4,1049.5 L961.7,1048.7 L965.0,1048.0 L968.3,1047.2 L971.6,1046.4 L974.9,1045.5 L978.2,1044.7 L981.5,1043.7 L984.8,1042.8 L988.0,1041.8 L991.3,1040.8 L994.5,1039.8 L997.7,1038.7 L1000.9,1037.5 L1004.1,1036.4 L1007.3,1035.1 L1010.5,1033.9 L1013.6,1032.6 L1016.7,1031.3 L1019.8,1029.9 L1022.8,1028.4 L1025.9,1026.9 L1028.9,1025.4 L1031.8,1023.8 L1034.8,1022.2 L1037.7,1020.5 L1040.5,1018.8 L1043.4,1017.0 L1046.2,1015.1 L1048.9,1013.2 L1051.6,1011.3 L1054.3,1009.3 L1056.9,1007.2 L1059.5,1005.1 L1062.1,1002.9 L1064.6,1000.7 L1067.0,998.5 L1069.4,996.2 L1071.8,993.8 L1074.1,991.4 L1076.4,989.0 L1078.6,986.5 L1080.8,984.0 L1083.0,981.4 L1085.0,978.8 L1087.1,976.1 L1089.0,973.4 L1091.0,970.7 L1092.9,967.9 L1094.7,965.1 L1096.5,962.2 L1098.3,959.3 L1100.0,956.4 L1101.7,953.5 L1103.3,950.5 L1104.9,947.5 L1106.4,944.5 L1108.0,941.4 L1109.4,938.3 L1110.9,935.2 L1112.3,932.1 L1113.7,929.0 L1115.0,925.8 L1116.3,922.6 L1117.6,919.4 L1118.8,916.2 L1120.0,913.0 L1121.2,909.8 L1122.4,906.6 L1123.5,903.3 L1124.6,900.1 L1125.7,896.8 L1126.8,893.6 L1127.8,890.3 L1128.9,887.1 L1129.9,883.8 L1130.8,880.5 L1131.8,877.3 L1132.7,874.0 L1133.6,870.7 L1134.5,867.4 L1135.4,864.2 L1136.3,860.9 L1137.1,857.6 L1138.0,854.3 L1138.8,851.0 L1139.6,847.7 L1140.3,844.4 L1141.1,841.1 L1141.9,837.8 L1142.6,834.5 L1143.3,831.2 L1144.0,827.9 L1144.7,824.6 L1145.4,821.3 L1146.1,818.0 L1146.8,814.7 L1147.4,811.3 L1148.1,808.0 L1148.7,804.7 L1149.3,801.4 L1150.0,798.1 L1150.6,794.8 L1151.2,791.4 L1151.8,788.1 L1152.4,784.8 L1153.0,781.4 L1153.6,778.1 L1154.1,774.8 L1154.7,771.5 L1155.3,768.1 L1155.9,764.8 L1156.4,761.5 L1157.0,758.1 L1157.6,754.8 L1158.1,751.5 L1158.7,748.1 L1159.2,744.8 L1159.8,741.5 L1160.3,738.1 L1160.8,734.8 L1161.4,731.4 L1161.9,728.1 L1162.4,724.8 L1163.0,721.4 L1163.5,718.1 L1164.0,714.7 L1164.5,711.4 L1165.0,708.0 L1165.5,704.7 L1166.0,701.3 L1166.5,698.0 L1167.0,694.6 L1167.5,691.3 L1168.0,687.9 L1168.5,684.6 L1169.0,681.2 L1169.5,677.9 L1169.9,674.5 L1170.4,671.2 L1170.9,667.8 L1171.3,664.5 L1171.8,661.1 L1172.3,657.8 L1172.7,654.4 L1173.2,651.1 L1173.6,647.7 L1174.1,644.3 L1174.5,641.0 L1175.0,637.6 L1175.4,634.3 L1175.9,630.9 L1176.3,627.5 L1176.7,624.2 L1177.2,620.8 L1177.6,617.4 L1178.0,614.1 L1178.5,610.7 L1178.9,607.4 L1179.3,604.0 L1179.7,600.6 L1180.1,597.3 L1180.5,593.9 L1180.9,590.5 L1181.3,587.2 L1181.7,583.8 L1182.1,580.4 L1182.5,577.0 L1182.9,573.7 L1183.3,570.3 L1183.7,566.9 L1184.1,563.6 L1184.5,560.2 L1184.9,556.8 L1185.3,553.4 L1185.6,550.1 L1186.0,546.7 L1186.4,543.3 L1186.8,540.0 L1187.1,536.6 L1187.5,533.2 L1187.9,529.8 L1188.2,526.4 L1188.6,523.1 L1189.0,519.7 L1189.3,516.3 L1189.7,512.9 L1190.0,509.6 L1190.4,506.2 L1190.7,502.8 L1191.1,499.4 L1191.4,496.1 L1191.8,492.7 L1192.1,489.3 L1192.5,485.9 L1192.8,482.5 L1193.2,479.2 L1193.5,475.8 L1193.8,472.4 L1194.2,469.0 L1194.5,465.6 L1194.8,462.2 L1195.2,458.9 L1195.5,455.5 L1195.8,452.1 L1196.1,448.7 L1196.5,445.3 L1196.8,442.0 L1197.1,438.6 L1197.4,435.2 L1197.7,431.8 L1198.1,428.4 L1198.4,425.0 L1198.7,421.6 L1199.0,418.3 L1199.3,414.9 L1199.6,411.5 L1199.9,408.1 L1200.2,404.7 L1200.5,401.3 L1200.8,398.0 L1201.1,394.6 L1201.5,391.2 L1201.8,387.8 L1202.1,384.4 L1202.4,381.0 L1202.7,377.6 L1203.0,374.3 L1203.3,370.9 L1203.5,367.5 L1203.8,364.1 L1204.1,360.7 L1204.4,357.3 L1204.7,353.9 L1205.0,350.6 L1205.3,347.2 L1205.6,343.8 L1205.9,340.4 L1206.2,337.0 L1206.5,333.6 L1206.8,330.3 L1207.0,326.9 L1207.3,323.5 L1207.6,320.1 L1207.9,316.7 L1208.2,313.3 L1208.5,309.9 L1208.8,306.6 L1209.0,303.2 L1209.3,299.8 L1209.6,296.4 L1209.9,293.0 L1210.2,289.6 L1210.5,286.2 L1210.7,282.9 L1211.0,279.5 L1211.3,276.1 L1211.6,272.7 L1211.9,269.3 L1212.2,265.9 L1212.4,262.6 L1212.7,259.2 L1213.0,255.8 L1213.3,252.4 L1213.6,249.0 L1213.8,245.7 L1214.1,242.3 L1214.4,238.9 L1214.7,235.5 L1215.0,232.1 L1215.2,228.7 L1215.5,225.4 L1215.8,222.0 L1216.1,218.6 L1216.4,215.2 L1216.7,211.8 L1216.9,208.5 L1217.2,205.1 L1217.5,201.7 L1217.8,198.3 L1218.1,195.0 L1218.3,191.6 L1218.6,188.2 L1218.9,184.8 L1219.2,181.4 L1219.5,178.1 L1219.8,174.7 L1220.1,171.3 L1220.3,167.9 L1220.6,164.6 L1220.9,161.2 L1221.2,157.8 L1221.5,154.4 L1221.8,151.1 L1222.1,147.7 L1222.4,144.3 L1222.7,141.0 L1223.0,137.6 L1223.3,134.2 L1223.6,130.8 L1223.8,127.5 L1224.1,124.1 L1225.2,112.2" stroke="#ff00ff"/>
<path d="M276.4,1132.0 L288.4,1131.4 L291.5,1131.2 L294.6,1131.0 L297.7,1130.8 L300.8,1130.6 L303.9,1130.4 L307.1,1130.2 L310.2,1130.0 L313.3,1129.8 L316.4,1129.5 L319.5,1129.3 L322.6,1129.1 L325.7,1128.9 L328.8,1128.6 L331.9,1128.4 L335.0,1128.1 L338.1,1127.9 L341.3,1127.6 L344.4,1127.4 L347.5,1127.1 L350.6,1126.9 L353.7,1126.6 L356.8,1126.3 L359.9,1126.1 L363.0,1125.8 L366.1,1125.5 L369.2,1125.2 L372.3,1124.9 L375.4,1124.7 L378.5,1124.4 L381.6,1124.1 L384.7,1123.8 L387.8,1123.5 L390.9,1123.2 L394.0,1122.9 L397.1,1122.6 L400.2,1122.3 L403.3,1121.9 L406.4,1121.6 L409.4,1121.3 L412.5,1121.0 L415.6,1120.7 L418.7,1120.3 L421.8,1120.0 L424.9,1119.7 L428.0,1119.4 L431.1,1119.0 L434.2,1118.7 L437.3,1118.4 L440.4,1118.0 L443.5,1117.7 L446.6,1117.3 L449.7,1117.0 L452.8,1116.6 L455.8,1116.3 L458.9,1115.9 L462.0,1115.6 L465.1,1115.2 L468.2,1114.9 L471.3,1114.5 L474.4,1114.2 L477.5,1113.8 L480.6,1113.5 L483.7,1113.1 L486.8,1112.8 L489.8,1112.4 L492.9,1112.0 L496.0,1111.7 L499.1,1111.3 L502.2,1111.0 L505.3,1110.6 L508.4,1110.2 L511.5,1109.9 L514.6,1109.5 L517.7,1109.1 L520.8,1108.8 L523.8,1108.4 L526.9,1108.0 L530.0,1107.7 L533.1,1107.3 L536.2,1106.9 L539.3,1106.6 L542.4,1106.2 L545.5,1105.8 L548.6,1105.5 L551.7,1105.1 L554.8,1104.7 L557.9,1104.4 L560.9,1104.0 L564.0,1103.7 L567.1,1103.3 L570.2,1102.9 L573.3,1102.6 L576.4,1102.2 L579.5,1101.9 L582.6,1101.5 L585.7,1101.1 L588.8,1100.8 L591.9,1100.4 L595.0,1100.1 L598.1,1099.7 L601.2,1099.4 L604.3,1099.0 L607.4,1098.7 L610.5,1098.3 L613.6,1097.9 L616.7,1097.6 L619.8,1097.2 L622.8,1096.9 L625.9,1096.5 L629.0,1096.2 L632.1,1095.8 L635.2,1095.4 L638.3,1095.1 L641.4,1094.7 L644.5,1094.3 L647.6,1093.9 L650.7,1093.6 L653.8,1093.2 L656.9,1092.8 L660.0,1092.4 L663.1,1092.0 L666.1,1091.6 L669.2,1091.2 L672.3,1090.7 L675.4,1090.3 L678.5,1089.9 L681.6,1089.5 L684.7,1089.0 L687.7,1088.6 L690.8,1088.1 L693.9,1087.7 L697.0,1087.2 L700.0,1086.7 L703.1,1086.2 L706.2,1085.7 L709.3,1085.2 L712.3,1084.7 L715.4,1084.2 L718.4,1083.7 L721.5,1083.1 L724.6,1082.6 L727.6,1082.0 L730.7,1081.4 L733.7,1080.9 L736.8,1080.3 L739.8,1079.7 L742.9,1079.0 L745.9,1078.4 L749.0,1077.8 L752.0,1077.1 L755.1,1076.4 L758.1,1075.8 L761.1,1075.1 L764.1,1074.4 L767.2,1073.7 L770.2,1072.9 L773.2,1072.2 L776.2,1071.4 L779.3,1070.6 L782.3,1069.8 L785.3,1069.0 L788.3,1068.2 L791.3,1067.4 L794.3,1066.5 L797.3,1065.7 L800.3,1064.8 L803.3,1063.9 L806.3,1062.9 L809.2,1062.0 L812.2,1061.1 L815.2,1060.1 L818.2,1059.1 L821.1,1058.1 L824.1,1057.1 L827.1,1056.0 L830.0,1054.9 L833.0,1053.9 L835.9,1052.7 L838.9,1051.6 L841.8,1050.5 L844.7,1049.3 L847.7,1048.1 L850.6,1046.9 L853.5,1045.7 L856.4,1044.4 L859.3,1043.1 L862.2,1041.8 L865.0,1040.5 L867.9,1039.1 L870.7,1037.7 L873.5,1036.3 L876.3,1034.8 L879.0,1033.3 L881.8,1031.8 L884.5,1030.3 L887.1,1028.7 L889.8,1027.0 L892.4,1025.4 L895.0,1023.7 L897.6,1021.9 L900.1,1020.1 L902.5,1018.3 L905.0,1016.4 L907.4,1014.5 L909.7,1012.6 L912.1,1010.6 L914.3,1008.5 L916.6,1006.5 L918.7,1004.3 L920.9,1002.1 L922.9,999.9 L925.0,997.6 L926.9,995.3 L928.9,992.9 L930.8,990.5 L932.6,988.1 L934.4,985.6 L936.2,983.0 L937.9,980.5 L939.6,977.9 L941.2,975.2 L942.8,972.6 L944.4,969.9 L945.9,967.2 L947.4,964.5 L948.9,961.7 L950.4,958.9 L951.8,956.2 L953.2,953.3 L954.6,950.5 L955.9,947.7 L957.2,944.8 L958.5,942.0 L959.8,939.1 L961.1,936.3 L962.4,933.4 L963.6,930.5 L964.8,927.6 L966.0,924.8 L967.2,921.9 L968.3,919.0 L969.5,916.1 L970.6,913.2 L971.7,910.2 L972.8,907.3 L973.9,904.4 L975.0,901.5 L976.0,898.5 L977.0,895.6 L978.1,892.7 L979.1,889.7 L980.0,886.8 L981.0,883.8 L982.0,880.9 L982.9,877.9 L983.8,874.9 L984.8,872.0 L985.7,869.0 L986.5,866.0 L987.4,863.0 L988.3,860.0 L989.1,857.0 L990.0,854.1 L990.8,851.1 L991.6,848.1 L992.4,845.0 L993.2,842.0 L993.9,839.0 L994.7,836.0 L995.5,833.0 L996.2,830.0 L996.9,827.0 L997.6,823.9 L998.3,820.9 L999.0,817.9 L999.7,814.8 L1000.4,811.8 L1001.1,808.7 L1001.7,805.7 L1002.4,802.7 L1003.0,799.6 L1003.6,796.6 L1004.3,793.5 L1004.9,790.4 L1005.5,787.4 L1006.1,784.3 L1006.6,781.3 L1007.2,778.2 L1007.8,775.1 L1008.4,772.1 L1008.9,769.0 L1009.5,765.9 L1010.0,762.9 L1010.5,759.8 L1011.1,756.7 L1011.6,753.6 L1012.1,750.6 L1012.6,747.5 L1013.1,744.4 L1013.6,741.3 L1014.1,738.2 L1014.6,735.1 L1015.1,732.1 L1015.6,729.0 L1016.0,725.9 L1016.5,722.8 L1017.0,719.7 L1017.4,716.6 L1017.9,713.5 L1018.3,710.4 L1018.8,707.3 L1019.2,704.3 L1019.7,701.2 L1020.1,698.1 L1020.6,695.0 L1021.0,691.9 L1021.4,688.8 L1021.9,685.7 L1022.3,682.6 L1022.7,679.5 L1023.2,676.4 L1023.6,673.3 L1024.0,670.2 L1024.4,667.1 L1024.8,664.1 L1025.3,661.0 L1025.7,657.9 L1026.1,654.8 L1026.5,651.7 L1026.9,648.6 L1027.3,645.5 L1027.7,642.4 L1028.1,639.3 L1028.5,636.2 L1029.0,633.1 L1029.4,630.1 L1029.7,627.0 L1030.1,623.9 L1030.5,620.8 L1030.9,617.7 L1031.3,614.6 L1031.7,611.5 L1032.1,608.4 L1032.5,605.3 L1032.9,602.2 L1033.3,599.1 L1033.6,596.1 L1034.0,593.0 L1034.4,589.9 L1034.8,586.8 L1035.2,583.7 L1035.5,580.6 L1035.9,577.5 L1036.3,574.4 L1036.6,571.3 L1037.0,568.2 L1037.4,565.2 L1037.7,562.1 L1038.1,559.0 L1038.5,555.9 L1038.8,552.8 L1039.2,549.7 L1039.5,546.6 L1039.9,543.5 L1040.3,540.4 L1040.6,537.3 L1041.0,534.2 L1041.3,531.2 L1041.7,528.1 L1042.0,525.0 L1042.4,521.9 L1042.7,518.8 L1043.0,515.7 L1043.4,512.6 L1043.7,509.5 L1044.1,506.4 L1044.4,503.3 L1044.7,500.2 L1045.1,497.1 L1045.4,494.1 L1045.7,491.0 L1046.1,487.9 L1046.4,484.8 L1046.7,481.7 L1047.1,478.6 L1047.4,475.5 L1047.7,472.4 L1048.0,469.3 L1048.4,466.2 L1048.7,463.1 L1049.0,460.0 L1049.3,457.0 L1049.6,453.9 L1050.0,450.8 L1050.3,447.7 L1050.6,444.6 L1050.9,441.5 L1051.2,438.4 L1051.5,435.3 L1051.8,432.2 L1052.1,429.1 L1052.5,426.0 L1052.8,422.9 L1053.1,419.8 L1053.4,416.7 L1053.7,413.6 L1054.0,410.6 L1054.3,407.5 L1054.6,404.4 L1054.9,401.3 L1055.2,398.2 L1055.5,395.1 L1055.8,392.0 L1056.1,388.9 L1056.4,385.8 L1056.7,382.7 L1057.0,379.6 L1057.2,376.5 L1057.5,373.4 L1057.8,370.3 L1058.1,367.2 L1058.4,364.1 L1058.7,361.0 L1059.0,357.9 L1059.3,354.8 L1059.6,351.7 L1059.8,348.6 L1060.1,345.5 L1060.4,342.4 L1060.7,339.3 L1061.0,336.2 L1061.2,333.2 L1061.5,330.1 L1061.8,327.0 L1062.1,323.9 L1062.4,320.8 L1062.6,317.7 L1062.9,314.6 L1063.2,311.5 L1063.5,308.4 L1063.7,305.3 L1064.0,302.2 L1064.3,299.1 L1064.6,296.0 L1064.8,292.9 L1065.1,289.8 L1065.4,286.7 L1065.6,283.6 L1065.9,280.5 L1066.2,277.4 L1066.4,274.3 L1066.7,271.2 L1067.0,268.0 L1067.2,264.9 L1067.5,261.8 L1067.8,258.7 L1068.0,255.6 L1068.3,252.5 L1068.6,249.4 L1068.8,246.3 L1069.1,243.2 L1069.3,240.1 L1069.6,237.0 L1069.9,233.9 L1070.1,230.8 L1070.4,227.7 L1070.6,224.6 L1070.9,221.5 L1071.2,218.4 L1071.4,215.3 L1071.7,212.2 L1071.9,209.1 L1072.2,206.0 L1072.4,202.8 L1072.7,199.7 L1073.0,196.6 L1073.2,193.5 L1073.5,190.4 L1073.7,187.3 L1074.0,184.2 L1074.2,181.1 L1074.5,178.0 L1074.7,174.9 L1075.0,171.8 L1075.2,168.6 L1075.5,165.5 L1075.7,162.4 L1076.0,159.3 L1076.3,156.2 L1076.5,153.1 L1076.8,150.0 L1077.0,146.9 L1077.3,143.8 L1077.5,140.6 L1077.8,137.5 L1078.0,134.4 L1078.3,131.3 L1078.5,128.2 L1078.8,125.1 L1079.7,113.1" stroke="#008000"/>
</g>
</svg>
</body></html>
